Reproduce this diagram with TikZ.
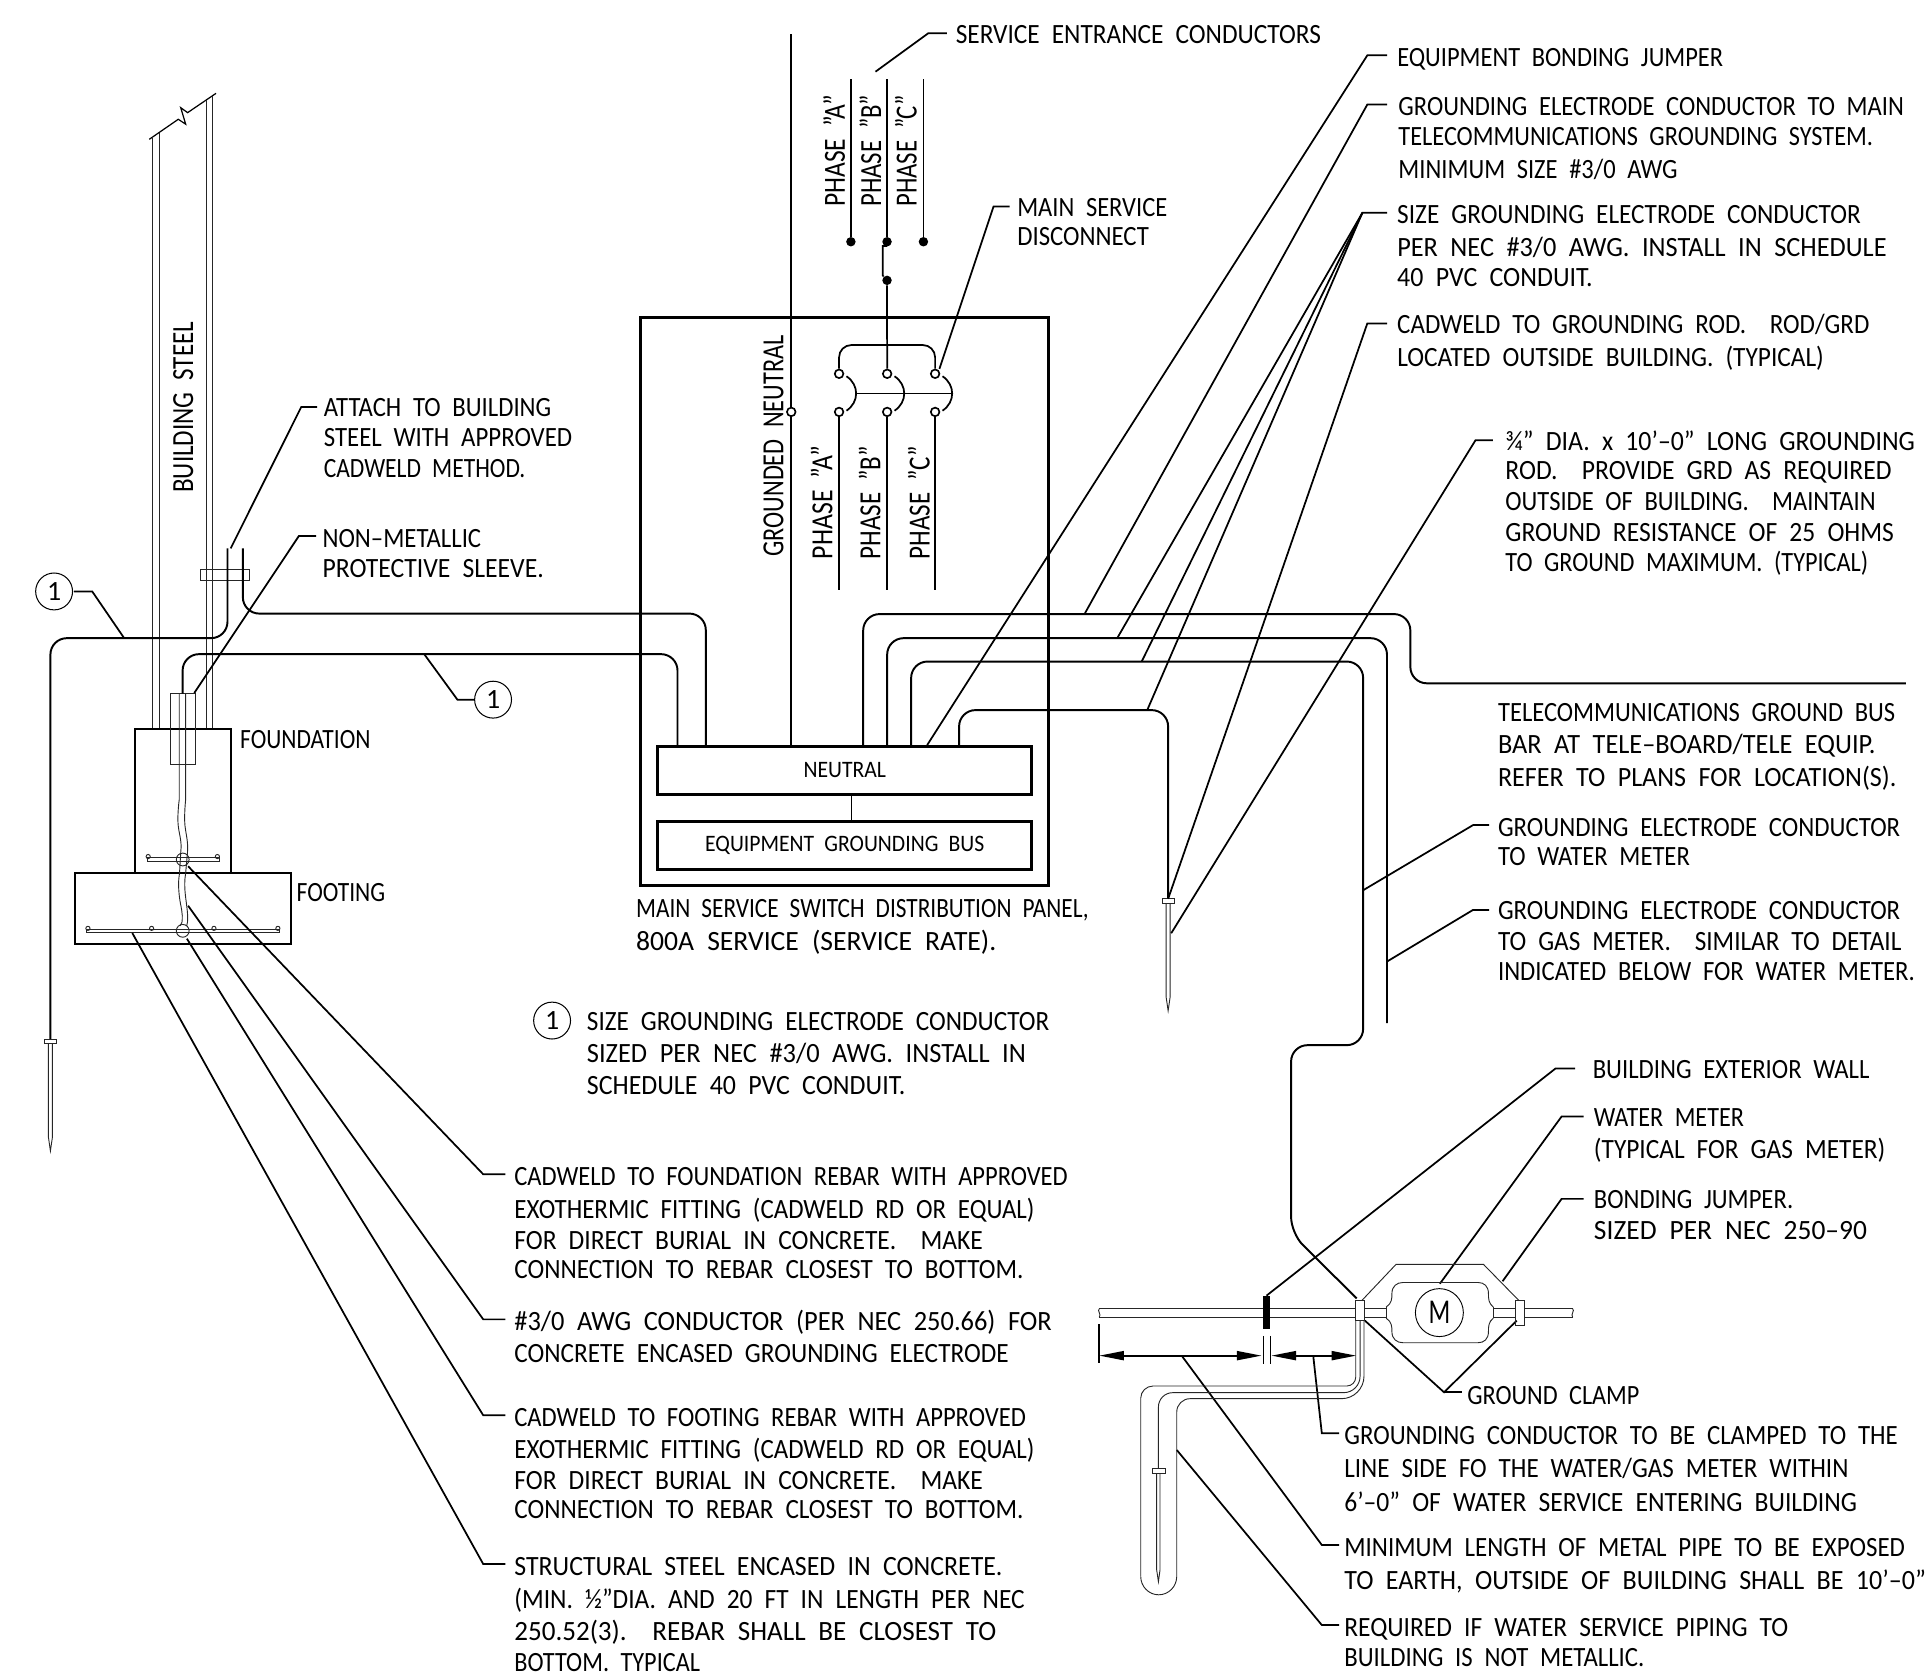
\documentclass[tikz,border=0pt]{standalone}
\usepackage{fontspec,graphicx}
\setmainfont[WordSpace=2.1]{Carlito}
\usetikzlibrary{arrows.meta}
\newcommand{\fitline}[2]{\resizebox{#1pt}{\height}{#2}}
\tikzset{note/.style={anchor=base west,inner sep=0,font=\fontsize{13.6}{16}\selectfont},
         uplabel/.style={anchor=base west,inner sep=0,rotate=90,font=\fontsize{15}{18}\selectfont},
         busbar/.style={draw,line width=1.4pt,minimum width=182.4pt,minimum height=23.4pt,inner sep=0,font=\fontsize{11.5}{14}\selectfont},
         heavy/.style={line width=1.4pt},
         block/.style={line width=1.1pt},
         wire/.style={line width=0.95pt,rounded corners=8pt},
         lead/.style={line width=0.85pt},
         fine/.style={line width=0.45pt,black!85},
         tag/.style={draw,circle,line width=0.5pt,minimum size=18pt,inner sep=0,font=\fontsize{13.6}{16}\selectfont},
         knob/.style={draw,circle,fill=white,line width=0.8pt,minimum size=4.2pt,inner sep=0},
         blob/.style={fill,circle,minimum size=4.6pt,inner sep=0},
         dim/.style={line width=0.85pt,{Triangle[length=12pt,width=4.4pt]}-{Triangle[length=12pt,width=4.4pt]}}
}
% ground rod, top centre at #1,#2
\newcommand{\groundrod}[2]{
  \draw[fine,fill=white](#1-5,#2)rectangle(#1+5,#2+4);
  \draw[fine](#1-1.6,#2+4)--(#1-1.6,#2+80)--(#1,#2+91)--(#1+1.6,#2+80)--(#1+1.6,#2+4);
}
\begin{document}
\begin{tikzpicture}[x=0.6pt,y=-0.6pt]
  \useasboundingbox(0,0)rectangle(1568,1364.7);
  % building steel
  \draw[lead,line width=0.6pt](121.4,113.3)--(145,97)--(151,101)--(147,87.6)--(152.6,91.6)--(175.7,75.9);
  \draw[fine](124.2,593)--(124.2,111.5);
  \draw[fine](129.3,593)--(129.3,108);
  \draw[fine](168.3,593)--(168.3,81);
  \draw[fine](173,593)--(173,78);
  \draw[fine](163,463)rectangle(203,472);
  % foundation and footing
  \draw[block](110,593)rectangle(187.6,710);
  \draw[block](60.7,710)rectangle(236.7,768);
  \draw[fine](139,564)rectangle(159,622);
  \draw[fine](145.8,564)--(145.8,650)..controls(144.5,660)and(144.5,668)..(145,672)..controls(146,680)and(148,684)..(147,693)--(146,710)..controls(145,716)and(145,722)..(146,730)..controls(147,738)and(149,742)..(148,750)--(146.4,753);
  \draw[fine](151,564)--(151,650)..controls(150,660)and(150,668)..(150.5,672)..controls(151.5,680)and(153,684)..(152.5,693)--(151,710)..controls(150,716)and(150,722)..(151,730)..controls(152,738)and(153,744)..(152.5,750)--(151.8,753);
  \draw[fine](120,697.3)rectangle(178.2,700.2);
  \draw[fine](70.5,755.8)rectangle(227,758.5);
  \draw[fine](148.6,699)circle(5.2);
  \draw[fine](148.6,757)circle(5.2);
  \foreach\x in {71.5,123.3,174,226} {\draw[fine](\x,755)circle(1.7);}
  \foreach\x in {120.5,176.8} {\draw[fine](\x,696.6)circle(1.7);}
  % conductors on the left
  \draw[wire](185,446)--(185,519)--(41,519)--(41,845);
  \draw[wire](197.5,446)--(197.5,499)--(574,499)--(574,607);
  \draw[wire](148.5,564)--(148.5,532)--(551,532)--(551,607);
  \groundrod{41}{845}
  % panel
  \draw[heavy](521,258)rectangle(853,720);
  \node[busbar] (neutralbar) at (687,626.5) {\fitline{40.2}{NEUTRAL}};
  \node[busbar] (equipbar) at (687,687.5) {\fitline{136.2}{EQUIPMENT GROUNDING BUS}};
  \draw[lead](692.5,646)--(692.5,668);
  % switch and phases
  \draw[lead](643.5,28)--(643.5,607);
  \node[knob] (gn) at (643.5,335) {};
  \foreach\x/\n in {682.4/a,721.5/b,760.5/c} {
     \node[knob] (top\n) at (\x,304) {};
     \node[knob] (bot\n) at (\x,335) {};
     \draw[lead](bot\n)--(\x,480);
     \draw[lead](\x+6,306)..controls(\x+16.5,313)and(\x+16.5,327)..(\x+6,334);
   }
  \draw[lead,rounded corners=6pt](topa)--(682.4,280.6)--(760.5,280.6)--(topc);
  \draw[lead](696,320)--(774.5,320);
  \foreach\x/\n in {692/a,721.4/b,751/c} {
     \node[blob] (dot\n) at (\x,196.6) {};
     \draw[lead](\x,64.5)--(dot\n);
   }
  \node[blob] (dotd) at (721.4,228) {};
  \draw[lead](721.4,200)--(717.9,200)--(717.9,224)--(dotd);
  \draw[lead](dotd)--(topb);
  \foreach\x/\y/\len/\txt [count=\i] in {157/401/139/{BUILDING STEEL},637/453/180/{GROUNDED NEUTRAL},
     677/455/92/{PHASE ''A''},716/455/92/{PHASE ''B''},756/455/92/{PHASE ''C''},
     687.2/168.4/91/{PHASE ''A''},716.5/168.4/91/{PHASE ''B''},745.5/168.4/91/{PHASE ''C''}} {
     \pgfmathsetmacro\w{\len*0.6}
     \node[uplabel] (up\i) at (\x,\y) {\fitline{\w}{\txt}};
   }
  % conductors on the right
  \draw[wire](702,607)--(702,499.4)--(1147,499.4)--(1147,555.7)--(1550,555.7);
  \draw[wire](721.5,607)--(721.5,519)--(1128,519)--(1128,832);
  \draw[wire](741,607)--(741,538)--(1108.6,538)--(1108.6,850)--(1050,850)--(1050,1003)--(1103.4,1056);
  \draw[wire](780,607)--(780,577.5)--(950,577.5)--(950,731);
  \groundrod{950}{731}
  % leaders
  \foreach\a/\b/\c/\d/\e/\f in {60/481/75/481/101/519, 386/569/372/569/345/532,
     258/331/245/331/187.6/446, 257/436/243/436/158/563.6,
     411/955/393/955/153/704.5, 411/1073/393/1073/153/736.6, 411/1151/393/1151/152/763.4, 411/1272/393/1272/107.6/758.8,
     770/27/755/27/712/58.3, 821/168/808/168/764/300,
     1128/45/1112/45/754/606, 1128/85/1112/85/882/499.4, 1128/173/1108/173/908.6/519,
     1128/263/1112/263/950/731, 1214/358/1200/358/952.5/759,
     1211/671/1198/671/1108.6/724, 1211/740/1198/740/1128/782,
     1281/869/1265/869/1030/1053.7, 1288/908/1270/908/1171/1044, 1288/975/1270/975/1222/1042,
     1089/1165.7/1075/1165.7/1068/1102.5, 1089/1256.5/1075/1256.5/961/1102.5, 1089/1321.6/1075/1321.6/957/1179.2} {
     \draw[lead](\a,\b)--(\c,\d)--(\e,\f);
   }
  \draw[lead](1108,173)--(928.5,538);
  \draw[lead](1108,173)--(933,577.5);
  \draw[lead](1110,1074)--(1174.4,1132.3)--(1233.5,1074);
  \draw[lead](1174.4,1132.3)--(1188.8,1132.3);
  % tags
  \node[tag] (tagone) at (44,481) {1};
  \node[tag] (tagtwo) at (401,569) {1};
  \node[tag] (tagkey) at (449,830) {1};
  % water meter
  \draw[fine](894,1064.3)--(1102.6,1064.3)(894,1071.3)--(1102.6,1071.3);
  \draw[fine](1109.3,1064.3)--(1127.3,1064.3)(1109.3,1071.3)--(1127.3,1071.3);
  \draw[fine](1214.5,1064.3)--(1232.7,1064.3)(1214.5,1071.3)--(1232.7,1071.3);
  \draw[fine](1239.5,1064.3)--(1279,1064.3)(1239.5,1071.3)--(1279,1071.3);
  \draw[fine](894,1064.3)..controls(892,1066)and(896,1069)..(894,1071.3);
  \draw[fine](1279,1064.3)..controls(1281,1066)and(1277,1069)..(1279,1071.3);
  \draw[fine](1102.6,1057.8)rectangle(1109.3,1074);
  \draw[fine](1232.7,1057.8)rectangle(1239.5,1077.6);
  \draw[fine](1127.3,1063)--(1127.3,1072)(1214.5,1063)--(1214.5,1072);
  \draw[fine](1127.3,1063)..controls(1132,1060)and(1132,1056)..(1132,1052)..controls(1132,1046)and(1136,1043)..(1141,1043)--(1202,1043)..controls(1207,1043)and(1210.5,1046)..(1210.5,1052)..controls(1210.5,1056)and(1210.5,1060)..(1214.5,1063);
  \draw[fine](1127.3,1072)..controls(1132,1075)and(1132,1079)..(1132,1083)..controls(1132,1089)and(1136,1092)..(1141,1092)--(1202,1092)..controls(1207,1092)and(1210.5,1089)..(1210.5,1083)..controls(1210.5,1079)and(1210.5,1075)..(1214.5,1072);
  \draw[fine](1107.4,1057.8)--(1135.4,1028.2)--(1206.4,1028.2)--(1235.4,1057.8);
  \node[draw,circle,line width=0.45pt,minimum size=23.4pt,inner sep=0,font=\fontsize{17}{20}\selectfont] (meter) at (1170.6,1067.5) {\fitline{10.6}{M}};
  \fill(1027.5,1053.7)rectangle(1033.2,1081);
  % buried pipe
  \draw[fine](1102.6,1074)[rounded corners=4.4pt]--(1102.6,1127.2)[rounded corners=6pt]--(927.7,1127.2)--(927.7,1282);
  \draw[fine](927.7,1282)arc(180:0:14.65 and 15);
  \draw[fine](957,1282)[rounded corners=6.5pt]--(957,1137.5)[rounded corners=11pt]--(1109.3,1137.5)--(1109.3,1074);
  \draw[fine](1106.1,1074)[rounded corners=8pt]--(1106.1,1132.6)[rounded corners=7pt]--(942.1,1132.6)--(942.1,1194);
  \draw[fine,fill=white](937.2,1194.1)rectangle(947.5,1198.2);
  \draw[fine](940.7,1198.2)--(940.7,1276.8)--(942.1,1286.3)--(943.4,1276.8)--(943.4,1198.2);
  % dimensions
  \draw[lead](894,1077)--(894,1108.7);
  \draw[dim](894,1102.5)--(1026,1102.5);
  \draw[lead,line width=0.6pt](1027.5,1086.5)--(1027.5,1109.3)(1033,1086.5)--(1033,1109.3);
  \draw[dim](1034,1102.5)--(1103,1102.5);
  % texts
  \foreach\x/\y/\r/\txt [count=\i] in {
     263/339/448/{ATTACH TO BUILDING},263/363.5/465/{STEEL WITH APPROVED},263/388/427/{CADWELD METHOD.},
     262/445/391/{NON--METALLIC},262/470/442/{PROTECTIVE SLEEVE.},
     195/609/301/{FOUNDATION},241/733/313/{FOOTING},
     777/35/1074/{SERVICE ENTRANCE CONDUCTORS},
     827/176/949/{MAIN SERVICE},827/200/934/{DISCONNECT},
     1136/54/1401/{EQUIPMENT BONDING JUMPER},
     1137/94/1548/{GROUNDING ELECTRODE CONDUCTOR TO MAIN},1137/118/1523/{TELECOMMUNICATIONS GROUNDING SYSTEM.},1137/145/1364/{MINIMUM SIZE \#3/0 AWG},
     1136/182/1513/{SIZE GROUNDING ELECTRODE CONDUCTOR},1136/209/1534/{PER NEC \#3/0 AWG. INSTALL IN SCHEDULE},1136/233/1295/{40 PVC CONDUIT.},
     1136/271/1520/{CADWELD TO GROUNDING ROD.~~ROD/GRD},1136/298/1483/{LOCATED OUTSIDE BUILDING. (TYPICAL)},
     1224/366/1557/{¾'' DIA. x 10'--0'' LONG GROUNDING},1224/390/1538/{ROD.~~PROVIDE GRD AS REQUIRED},1224/415/1525/{OUTSIDE OF BUILDING.~~MAINTAIN},1224/440/1540/{GROUND RESISTANCE OF 25 OHMS},1224/465/1519/{TO GROUND MAXIMUM. (TYPICAL)},
     1218/587/1541/{TELECOMMUNICATIONS GROUND BUS},1218/613/1525/{BAR AT TELE--BOARD/TELE EQUIP.},1218/640/1542/{REFER TO PLANS FOR LOCATION(S).},
     1218/680/1545/{GROUNDING ELECTRODE CONDUCTOR},1218/704/1374/{TO WATER METER},
     1218/748/1545/{GROUNDING ELECTRODE CONDUCTOR},1218/773/1546/{TO GAS METER.~~SIMILAR TO DETAIL},1218/797/1557/{INDICATED BELOW FOR WATER METER.},
     517/746/885/{MAIN SERVICE SWITCH DISTRIBUTION PANEL,},517/773/810/{800A SERVICE (SERVICE RATE).},
     477/838/853/{SIZE GROUNDING ELECTRODE CONDUCTOR},477/864/834/{SIZED PER NEC \#3/0 AWG. INSTALL IN},477/890/736/{SCHEDULE 40 PVC CONDUIT.},
     418/964/868/{CADWELD TO FOUNDATION REBAR WITH APPROVED},418/991/841/{EXOTHERMIC FITTING (CADWELD RD OR EQUAL)},418/1016/799/{FOR DIRECT BURIAL IN CONCRETE.~~MAKE},418/1040/832/{CONNECTION TO REBAR CLOSEST TO BOTTOM.},
     418/1082/855/{\#3/0 AWG CONDUCTOR (PER NEC 250.66) FOR},418/1108/820/{CONCRETE ENCASED GROUNDING ELECTRODE},
     418/1160/834/{CADWELD TO FOOTING REBAR WITH APPROVED},418/1186/841/{EXOTHERMIC FITTING (CADWELD RD OR EQUAL)},418/1211/799/{FOR DIRECT BURIAL IN CONCRETE.~~MAKE},418/1235/832/{CONNECTION TO REBAR CLOSEST TO BOTTOM.},
     418/1281/815/{STRUCTURAL STEEL ENCASED IN CONCRETE.},418/1308/833/{(MIN. ½''DIA. AND 20 FT IN LENGTH PER NEC},418/1334/810/{250.52(3).~~REBAR SHALL BE CLOSEST TO},418/1359/569/{BOTTOM. TYPICAL},
     1295/877/1520/{BUILDING EXTERIOR WALL},
     1296/916/1418/{WATER METER},1296/942/1533/{(TYPICAL FOR GAS METER)},
     1296/983/1458/{BONDING JUMPER.},1296/1008/1518/{SIZED PER NEC 250--90},
     1193/1142/1333/{GROUND CLAMP},
     1093/1175/1543/{GROUNDING CONDUCTOR TO BE CLAMPED TO THE},1093/1202/1503/{LINE SIDE FO THE WATER/GAS METER WITHIN},1093/1229/1510/{6'--0'' OF WATER SERVICE ENTERING BUILDING},
     1093/1266/1549/{MINIMUM LENGTH OF METAL PIPE TO BE EXPOSED},1093/1293/1566/{TO EARTH, OUTSIDE OF BUILDING SHALL BE 10'--0''},
     1093/1331/1454/{REQUIRED IF WATER SERVICE PIPING TO},1093/1355/1337/{BUILDING IS NOT METALLIC.}} {
     \pgfmathsetmacro\w{(\r-\x)*0.6}
     \node[note] (txt\i) at (\x,\y) {\fitline{\w}{\txt}};
   }
\end{tikzpicture}
\end{document}
